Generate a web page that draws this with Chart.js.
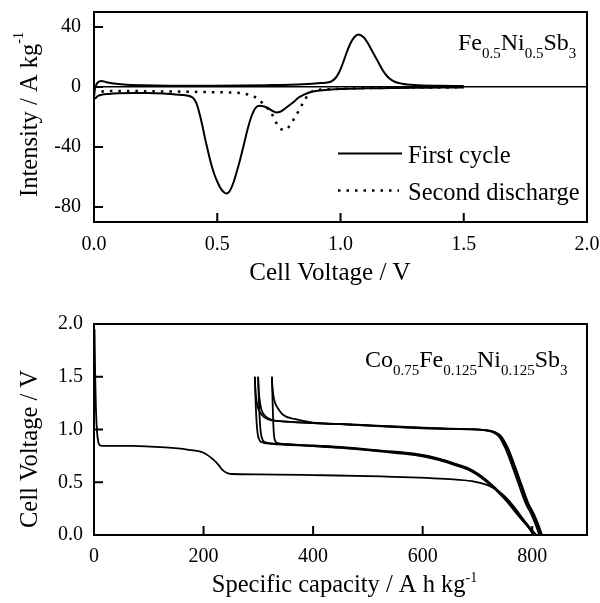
<!DOCTYPE html>
<html>
<head>
<meta charset="utf-8">
<script src="https://cdn.jsdelivr.net/npm/chart.js@4"></script>
<style>
    body { margin: 0; background: #fff; }
    .panel { position: absolute; left: 0; }
</style>
</head>
<body>
<div class="panel" style="top:0"><canvas id="cv" width="600" height="300"></canvas></div>
<div class="panel" style="top:300px"><canvas id="cap" width="600" height="303"></canvas></div>
<script>
// ---- top panel: differential capacity, Fe0.5Ni0.5Sb3 ----
const cvXTicks = [0, 0.5, 1.0, 1.5, 2.0];
const cvYTicks = [-80, -40, 0, 40];

// first cycle, reduction branch (drawn 0 -> 1.5 V)
const firstRedV = [0.0, 0.005, 0.015, 0.03, 0.06, 0.10, 0.16, 0.22, 0.28, 0.33, 0.37, 0.40, 0.41, 0.42, 0.43, 0.44, 0.45, 0.46, 0.47, 0.48, 0.49, 0.50, 0.51, 0.52, 0.53, 0.538, 0.55, 0.565, 0.58, 0.595, 0.61, 0.625, 0.64, 0.655, 0.67, 0.69, 0.71, 0.725, 0.74, 0.755, 0.77, 0.79, 0.81, 0.83, 0.85, 0.87, 0.90, 0.95, 1.00, 1.10, 1.20, 1.30, 1.40, 1.50];
const firstRedI = [-7, -7.5, -6, -5.2, -4.6, -4.2, -4, -4, -4.3, -5, -5.5, -7, -9, -13, -19, -26, -34, -41, -48, -54, -59, -63, -66.5, -69, -70.5, -71, -69.5, -64, -56, -47, -37, -27, -19, -14, -12.5, -13, -14.5, -16, -17, -16.5, -15, -12.5, -10, -7, -5.3, -3.8, -2.6, -1.8, -1.3, -0.9, -0.7, -0.5, -0.4, -0.3];
// first cycle, oxidation branch
const firstOxV = [0.0, 0.003, 0.008, 0.015, 0.03, 0.05, 0.08, 0.12, 0.20, 0.30, 0.50, 0.70, 0.85, 0.92, 0.96, 0.98, 0.995, 1.01, 1.025, 1.04, 1.055, 1.072, 1.095, 1.11, 1.125, 1.14, 1.155, 1.17, 1.185, 1.20, 1.22, 1.25, 1.30, 1.40, 1.50];
const firstOxI = [-7, -2, 1, 3, 4, 3.2, 2.3, 1.6, 1.1, 0.9, 0.9, 1.2, 1.8, 2.6, 3.5, 6, 10, 16, 23, 29, 33, 35, 33, 29.5, 25, 20.5, 16, 11.5, 8, 5.5, 3.5, 2.2, 1.3, 0.8, 0.6];

// second discharge
const secondV = [0.03, 0.06, 0.12, 0.20, 0.30, 0.40, 0.50, 0.55, 0.59, 0.62, 0.65, 0.67, 0.69, 0.70, 0.715, 0.73, 0.74, 0.755, 0.77, 0.785, 0.80, 0.815, 0.83, 0.85, 0.87, 0.89, 0.91, 0.95, 1.00, 1.10, 1.20, 1.30, 1.40, 1.50];
const secondI = [-3, -2.6, -2.6, -2.8, -3, -3.2, -3.5, -3.7, -4, -4.8, -6.4, -8.5, -12, -13.5, -16, -20.7, -24, -27.5, -28.7, -27.5, -24.5, -20, -16, -10, -5, -2.5, -1.8, -1.5, -1.2, -0.8, -0.55, -0.4, -0.3, -0.2];

// ---- bottom panel: galvanostatic cycling, Co0.75Fe0.125Ni0.125Sb3 ----
const capXTicks = [0, 200, 400, 600, 800];
const capYTicks = [0, 0.5, 1.0, 1.5, 2.0];

const dis1Cap = [1, 2, 3.5, 5.5, 8, 12, 20, 70, 130, 170, 200, 219, 228, 234, 242, 250, 300, 400, 525, 650, 690, 720, 745, 765, 782, 795, 802];
const dis1V   = [1.95, 1.55, 1.2, 0.98, 0.88, 0.848, 0.845, 0.845, 0.83, 0.81, 0.78, 0.71, 0.66, 0.62, 0.59, 0.578, 0.575, 0.568, 0.555, 0.53, 0.51, 0.47, 0.39, 0.28, 0.16, 0.06, 0.0];

const chg1Cap = [813, 806, 798, 788, 776, 763, 751, 740, 728, 710, 650, 600, 525, 450, 400, 366, 345, 336, 330, 327, 325.5, 324.8];
const chg1V   = [0.0, 0.1, 0.2, 0.3, 0.47, 0.66, 0.82, 0.93, 0.975, 0.995, 1.005, 1.012, 1.03, 1.05, 1.065, 1.1, 1.14, 1.2, 1.26, 1.34, 1.42, 1.5];

const dis2Cap = [324.8, 325.8, 327, 328.5, 331, 336, 350, 400, 450, 525, 586, 630, 660, 690, 720, 750, 775, 795, 808];
const dis2V   = [1.5, 1.3, 1.1, 0.95, 0.89, 0.87, 0.86, 0.845, 0.83, 0.795, 0.765, 0.72, 0.67, 0.61, 0.5, 0.35, 0.19, 0.07, 0.0];

const chg2Cap = [816, 809, 801, 791, 779, 766, 754, 742, 730, 712, 650, 600, 525, 450, 400, 350, 325, 312, 305, 302, 300.4, 299.6];
const chg2V   = [0.0, 0.1, 0.2, 0.3, 0.47, 0.66, 0.82, 0.93, 0.975, 0.995, 1.005, 1.015, 1.032, 1.05, 1.06, 1.075, 1.09, 1.13, 1.2, 1.3, 1.4, 1.5];

const dis3Cap = [299.6, 300.8, 302.5, 304.5, 308, 315, 330, 400, 450, 525, 586, 630, 660, 690, 720, 750, 775, 795, 806];
const dis3V   = [1.5, 1.3, 1.1, 0.97, 0.9, 0.875, 0.865, 0.85, 0.835, 0.8, 0.77, 0.725, 0.675, 0.615, 0.505, 0.355, 0.2, 0.075, 0.0];

const chg3Cap = [818, 811, 803, 793, 781, 768, 756, 744, 732, 714, 650, 600, 525, 450, 400, 340, 318, 306, 299, 296, 294.4, 293.6];
const chg3V   = [0.0, 0.1, 0.2, 0.3, 0.47, 0.66, 0.82, 0.93, 0.975, 0.995, 1.008, 1.018, 1.035, 1.052, 1.062, 1.08, 1.095, 1.14, 1.21, 1.3, 1.4, 1.5];

const dis4Cap = [293.6, 294.8, 296.5, 298.5, 302, 309, 325, 400, 450, 525, 586, 630, 660, 690, 720, 750, 775, 795, 803];
const dis4V   = [1.5, 1.3, 1.1, 0.97, 0.9, 0.875, 0.865, 0.842, 0.825, 0.79, 0.757, 0.71, 0.66, 0.6, 0.49, 0.34, 0.18, 0.06, 0.0];

const FONT = '"Liberation Serif", "Times New Roman", serif';

function pts(xs, ys) {
    return xs.map((x, i) => ({ x, y: ys[i] }));
}

// text with sub/superscripts, drawn on the canvas
function richText(ctx, parts, x, y, o) {
    const segs = parts.map(([t, k]) => {
        ctx.font = `${k ? o.small : o.size}px ${FONT}`;
        return { t, k, w: ctx.measureText(t).width };
    });
    const total = segs.reduce((s, p) => s + p.w, 0);
    ctx.save();
    ctx.translate(x, y);
    if (o.rotate) ctx.rotate(o.rotate);
    ctx.fillStyle = '#000';
    ctx.textBaseline = 'alphabetic';
    let cx = o.align === 'center' ? -total / 2 : o.align === 'right' ? -total : 0;
    segs.forEach(p => {
        ctx.font = `${p.k ? o.small : o.size}px ${FONT}`;
        const dy = p.k === 'sub' ? o.shift : p.k === 'sup' ? -o.shift : 0;
        ctx.fillText(p.t, cx, dy);
        cx += p.w;
    });
    ctx.restore();
}

// closed frame + inward tick marks
const frame = {
    id: 'frame',
    afterDatasetsDraw(chart) {
        const { ctx, chartArea: a, scales } = chart;
        ctx.save();
        ctx.strokeStyle = '#000';
        ctx.lineWidth = 2;
        ctx.strokeRect(a.left, a.top, a.right - a.left, a.bottom - a.top);
        ctx.beginPath();
        scales.x.ticks.forEach(t => {
            const p = scales.x.getPixelForValue(t.value);
            if (p > a.left + 2 && p < a.right - 2) { ctx.moveTo(p, a.bottom); ctx.lineTo(p, a.bottom - 9); }
        });
        scales.y.ticks.forEach(t => {
            const p = scales.y.getPixelForValue(t.value);
            if (p > a.top + 2 && p < a.bottom - 2) { ctx.moveTo(a.left, p); ctx.lineTo(a.left + 9, p); }
        });
        ctx.stroke();
        ctx.restore();
    }
};

function noPad(s) {
    s.paddingLeft = 0; s.paddingRight = 0; s.paddingTop = 0; s.paddingBottom = 0;
}

function axes(xMin, xMax, xTicks, xFmt, yMin, yMax, yTicks, yFmt, xH, yPad, xPad, zeroLine) {
    return {
        x: {
            type: 'linear', min: xMin, max: xMax,
            afterBuildTicks: s => { s.ticks = xTicks.map(v => ({ value: v })); },
            afterFit: s => { s.height = xH; noPad(s); },
            grid: { display: false, drawTicks: false },
            border: { display: false },
            ticks: { color: '#000', font: { family: FONT, size: 20 }, padding: xPad, maxRotation: 0, autoSkip: false, callback: xFmt },
        },
        y: {
            type: 'linear', min: yMin, max: yMax,
            afterBuildTicks: s => { s.ticks = yTicks.map(v => ({ value: v })); },
            afterFit: s => { s.width = 94; noPad(s); },
            grid: {
                drawTicks: false,
                lineWidth: 1.5,
                color: c => (zeroLine && c.tick && c.tick.value === 0) ? '#000' : 'rgba(0,0,0,0)',
            },
            border: { display: false },
            ticks: { color: '#000', font: { family: FONT, size: 20 }, padding: yPad, callback: yFmt },
        },
    };
}

const line = { showLine: true, pointRadius: 0, borderColor: '#000', fill: false, cubicInterpolationMode: 'monotone' };

// ---- top chart ----
const cvText = {
    id: 'cvText',
    afterDraw(chart) {
        const ctx = chart.ctx;
        richText(ctx, [['Cell Voltage / V', '']], 330, 280, { size: 25, align: 'center' });
        richText(ctx, [['Intensity / A kg', ''], ['-1', 'sup']], 37, 114.5,
            { size: 24.5, small: 14, shift: 14, align: 'center', rotate: -Math.PI / 2 });
        richText(ctx, [['Fe', ''], ['0.5', 'sub'], ['Ni', ''], ['0.5', 'sub'], ['Sb', ''], ['3', 'sub']], 458, 50,
            { size: 24, small: 15, shift: 8, align: 'left' });

        // legend, styled from the labelled datasets
        const rows = [153.5, 190.5];
        chart.data.datasets.filter(ds => ds.label).forEach((ds, i) => {
            ctx.save();
            ctx.strokeStyle = ds.borderColor;
            ctx.lineWidth = ds.borderWidth;
            ctx.setLineDash(ds.borderDash || []);
            ctx.beginPath();
            ctx.moveTo(338, rows[i]);
            ctx.lineTo(i === 0 ? 402 : 399, rows[i]);
            ctx.stroke();
            ctx.restore();
            richText(ctx, [[ds.label, '']], 408, rows[i] + 9, { size: 24.5, align: 'left' });
        });
    }
};

new Chart(document.getElementById('cv'), {
    type: 'scatter',
    data: {
        datasets: [
            { ...line, label: 'First cycle', data: pts(firstRedV, firstRedI), borderWidth: 2 },
            { ...line, label: 'Second discharge', data: pts(secondV, secondI), borderWidth: 2.5, borderDash: [2.5, 6] },
            { ...line, data: pts(firstOxV, firstOxI), borderWidth: 2 },
        ],
    },
    options: {
        responsive: false,
        animation: false,
        devicePixelRatio: 1,
        layout: { padding: { top: 12, right: 13, bottom: 0, left: 0 } },
        plugins: { legend: { display: false }, tooltip: { enabled: false } },
        scales: axes(0, 2, cvXTicks, v => v.toFixed(1), -90, 50, cvYTicks, v => String(v), 78, 13, 11, true),
    },
    plugins: [frame, cvText],
});

// ---- bottom chart ----
const capText = {
    id: 'capText',
    afterDraw(chart) {
        const ctx = chart.ctx;
        const a = chart.chartArea;
        richText(ctx, [['Specific capacity / A h kg', ''], ['-1', 'sup']], (a.left + a.right) / 2 + 4, 292,
            { size: 24.5, small: 14, shift: 10, align: 'center' });
        richText(ctx, [['Cell Voltage / V', '']], 37, 149, { size: 24.5, align: 'center', rotate: -Math.PI / 2 });
        richText(ctx, [['Co', ''], ['0.75', 'sub'], ['Fe', ''], ['0.125', 'sub'], ['Ni', ''], ['0.125', 'sub'], ['Sb', ''], ['3', 'sub']], 365, 67,
            { size: 24, small: 15, shift: 8, align: 'left' });
    }
};

const cycles = [[dis1Cap, dis1V], [chg1Cap, chg1V], [dis2Cap, dis2V], [chg2Cap, chg2V], [dis3Cap, dis3V], [chg3Cap, chg3V], [dis4Cap, dis4V]];

new Chart(document.getElementById('cap'), {
    type: 'scatter',
    data: {
        datasets: cycles.map(([c, v]) => ({ ...line, data: pts(c, v), borderWidth: 1.8 })),
    },
    options: {
        responsive: false,
        animation: false,
        devicePixelRatio: 1,
        layout: { padding: { top: 24, right: 13, bottom: 0, left: 0 } },
        plugins: { legend: { display: false }, tooltip: { enabled: false } },
        scales: axes(0, 900, capXTicks, v => String(v), 0, 2, capYTicks, v => v.toFixed(1), 68, 11, 10, false),
    },
    plugins: [frame, capText],
});
</script>
</body>
</html>
